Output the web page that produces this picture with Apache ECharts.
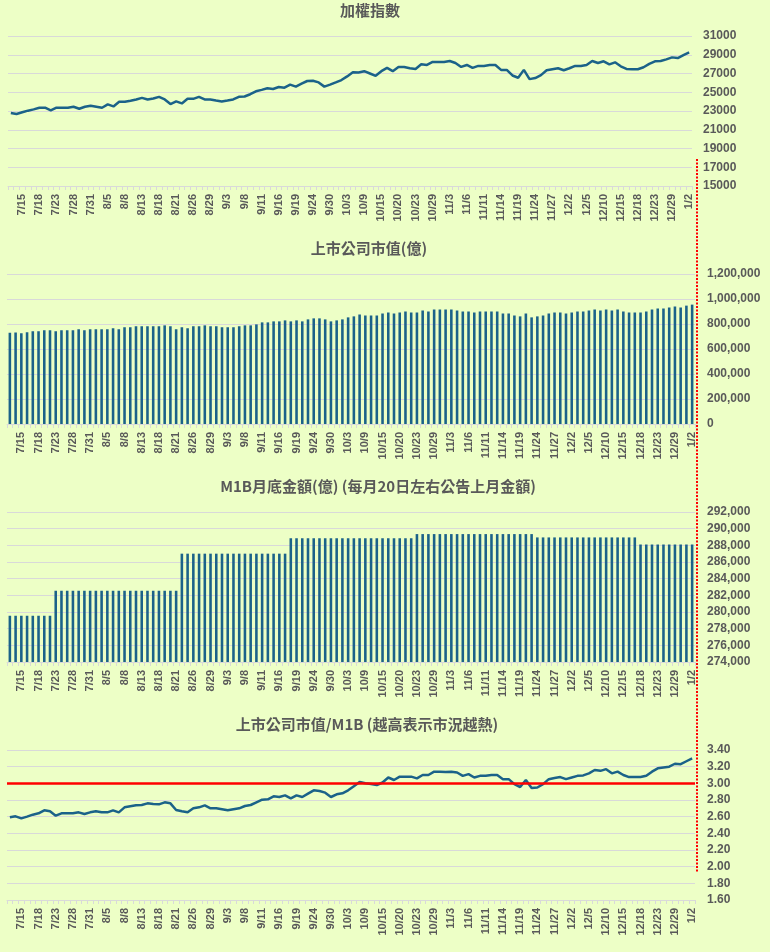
<!DOCTYPE html>
<html>
<head>
<meta charset="utf-8"/>
<style>
  html,body { height:100%; width:100%; margin:0; padding:0; background:#edffc6; }
  #chart { width:770px; height:952px; }
</style>
</head>
<body>
<div id="chart"></div>
<script src="https://cdn.jsdelivr.net/npm/echarts@6/dist/echarts.min.js"></script>
<script type="text/javascript">

// 交易日
var dates = [
  '7/11','7/14','7/15','7/16','7/17','7/18','7/21','7/22','7/23','7/24',
  '7/25','7/28','7/29','7/30','7/31','8/1','8/4','8/5','8/6','8/7',
  '8/8','8/11','8/12','8/13','8/14','8/15','8/18','8/19','8/20','8/21',
  '8/22','8/25','8/26','8/27','8/28','8/29','9/1','9/2','9/3','9/4',
  '9/5','9/8','9/9','9/10','9/11','9/12','9/15','9/16','9/17','9/18',
  '9/19','9/22','9/23','9/24','9/25','9/26','9/30','10/1','10/2','10/3',
  '10/7','10/8','10/9','10/13','10/14','10/15','10/16','10/17','10/20','10/21',
  '10/22','10/23','10/27','10/28','10/29','10/30','10/31','11/3','11/4','11/5',
  '11/6','11/7','11/10','11/11','11/12','11/13','11/14','11/17','11/18','11/19',
  '11/20','11/21','11/24','11/25','11/26','11/27','11/28','12/1','12/2','12/3',
  '12/4','12/5','12/8','12/9','12/10','12/11','12/12','12/15','12/16','12/17',
  '12/18','12/19','12/22','12/23','12/24','12/26','12/29','12/30','12/31','1/2'
];

// 加權指數
var taiex = [
  22790,22685,22860,23035,23175,23350,23350,23070,23350,23350,
  23350,23455,23245,23455,23560,23455,23350,23700,23490,23980,
  23980,24090,24230,24400,24230,24330,24510,24230,23740,24020,
  23810,24300,24300,24510,24230,24230,24120,24020,24120,24230,
  24510,24545,24790,25100,25250,25420,25350,25560,25490,25810,
  25600,25910,26200,26230,26050,25600,25810,26050,26300,26690,
  27140,27105,27245,27000,26755,27245,27600,27245,27700,27700,
  27560,27490,27980,27910,28230,28230,28230,28330,28120,27700,
  27910,27600,27810,27810,27910,27910,27385,27385,26790,26545,
  27385,26400,26510,26825,27350,27455,27560,27350,27560,27810,
  27810,27910,28330,28120,28300,27980,28190,27770,27490,27455,
  27455,27665,28020,28300,28330,28510,28720,28650,28965,29245
];

// 上市公司市值(億)
var marketCap = [
  730000,732000,726000,734000,742000,742000,750000,750000,742000,750000,
  750000,750000,758000,750000,758000,758000,758000,758000,766000,758000,
  774000,774000,782000,782000,782000,782000,782000,789000,782000,758000,
  774000,766000,782000,782000,789000,782000,782000,774000,774000,774000,
  782000,789000,789000,797000,813000,813000,821000,821000,829000,821000,
  829000,821000,837000,845000,845000,837000,821000,829000,837000,853000,
  861000,876000,868000,868000,868000,884000,892000,884000,892000,900000,
  892000,892000,908000,900000,916000,916000,916000,916000,908000,900000,
  900000,892000,900000,900000,900000,900000,884000,884000,868000,861000,
  884000,853000,861000,868000,884000,892000,892000,884000,892000,900000,
  900000,908000,916000,908000,916000,908000,916000,900000,892000,892000,
  892000,900000,916000,924000,924000,932000,940000,932000,947000,955000
];

// M1B月底金額(億)
var m1b = [
  279550,279550,279550,279550,279550,279550,279550,279550,282550,282550,
  282550,282550,282550,282550,282550,282550,282550,282550,282550,282550,
  282550,282550,282550,282550,282550,282550,282550,282550,282550,282550,
  287000,287000,287000,287000,287000,287000,287000,287000,287000,287000,
  287000,287000,287000,287000,287000,287000,287000,287000,287000,288850,
  288850,288850,288850,288850,288850,288850,288850,288850,288850,288850,
  288850,288850,288850,288850,288850,288850,288850,288850,288850,288850,
  288850,289350,289350,289350,289350,289350,289350,289350,289350,289350,
  289350,289350,289350,289350,289350,289350,289350,289350,289350,289350,
  289350,289350,288950,288950,288950,288950,288950,288950,288950,288950,
  288950,288950,288950,288950,288950,288950,288950,288950,288950,288950,
  288100,288100,288100,288100,288100,288100,288100,288100,288100,288100
];

// 上市公司市值/M1B
var capRatio = [
  2.592,2.604,2.58,2.60,2.624,2.64,2.676,2.664,2.612,2.64,
  2.64,2.64,2.652,2.632,2.652,2.664,2.652,2.652,2.676,2.652,
  2.712,2.724,2.736,2.74,2.76,2.752,2.748,2.772,2.76,2.68,
  2.664,2.652,2.70,2.712,2.736,2.70,2.70,2.688,2.676,2.688,
  2.70,2.728,2.74,2.772,2.804,2.808,2.844,2.836,2.856,2.82,
  2.856,2.836,2.876,2.916,2.908,2.888,2.836,2.868,2.88,2.916,
  2.964,3.016,3.00,2.992,2.98,3.01,3.07,3.04,3.08,3.08,
  3.08,3.06,3.10,3.10,3.14,3.14,3.135,3.14,3.13,3.09,
  3.11,3.07,3.09,3.09,3.10,3.10,3.05,3.05,2.99,2.955,
  3.04,2.945,2.95,2.99,3.05,3.065,3.075,3.05,3.07,3.09,
  3.095,3.12,3.16,3.15,3.17,3.12,3.14,3.10,3.075,3.075,
  3.075,3.09,3.14,3.18,3.19,3.20,3.235,3.23,3.265,3.30
];

var overheatLevel = 3.0;

var titles = ['加權指數', '上市公司市值(億)', 'M1B月底金額(億) (每月20日左右公告上月金額)', '上市公司市值/M1B (越高表示市況越熱)'];

var FONT = "'Liberation Sans', Arial, sans-serif";
var TITLE_FONT = "'Noto Sans CJK TC', 'Liberation Sans', sans-serif";
var mainColor = '#1b6289';
var gridColor = '#d9d9d9';
var textColor = '#595959';

// 版面: 四個圖上下排列
var gridTops = [36, 274, 512, 750];
var gridLefts = [8, 7, 7, 7];
var gridRights = [78, 75, 75, 75];
var titleCenters = [370, 369, 378, 367];
var yAxisSpec = [
  {min: 15000, max: 31000, interval: 2000, fmt: function (v) { return String(v); }},
  {min: 0, max: 1200000, interval: 200000, fmt: function (v) { return v.toLocaleString('en-US'); }},
  {min: 274000, max: 292000, interval: 2000, fmt: function (v) { return v.toLocaleString('en-US'); }},
  {min: 1.6, max: 3.4, interval: 0.2, fmt: function (v) { return v.toFixed(2); }}
];

var myChart = echarts.init(document.getElementById('chart'));

var option = {
  backgroundColor: '#edffc6',
  animation: false,
  title: titles.map(function (t, k) {
    return {
      text: t,
      left: titleCenters[k],
      top: gridTops[k] - 33,
      textAlign: 'center',
      padding: 0,
      textStyle: {fontFamily: TITLE_FONT, fontSize: 15, fontWeight: 'bold', color: textColor}
    };
  }),
  grid: gridTops.map(function (top, k) {
    return {left: gridLefts[k], right: gridRights[k], top: top, height: 150, containLabel: false};
  }),
  xAxis: gridTops.map(function (top, k) {
    return {
      type: 'category',
      gridIndex: k,
      data: dates,
      boundaryGap: true,
      axisLine: {lineStyle: {color: gridColor, width: 1}},
      axisTick: {show: true, interval: 0, length: 4, lineStyle: {color: gridColor}},
      axisLabel: {
        interval: function (i) { return i % 3 === 2; },
        rotate: 90,
        margin: 8,
        fontFamily: FONT,
        fontSize: 11,
        fontWeight: 'bold',
        color: textColor
      }
    };
  }),
  yAxis: yAxisSpec.map(function (s, k) {
    return {
      type: 'value',
      gridIndex: k,
      position: 'right',
      min: s.min,
      max: s.max,
      interval: s.interval,
      axisLine: {show: false},
      axisTick: {show: false},
      splitLine: {lineStyle: {color: gridColor, width: 1}},
      axisLabel: {
        formatter: s.fmt,
        margin: k === 0 ? 11 : 12,
        fontFamily: FONT,
        fontSize: 12,
        fontWeight: 'bold',
        color: textColor
      }
    };
  }),
  series: [
    {
      name: '加權指數', type: 'line', xAxisIndex: 0, yAxisIndex: 0,
      data: taiex, symbol: 'none',
      lineStyle: {color: mainColor, width: 2.5}
    },
    {
      name: '上市公司市值', type: 'bar', xAxisIndex: 1, yAxisIndex: 1,
      data: marketCap, barWidth: '45%',
      itemStyle: {color: mainColor}
    },
    {
      name: 'M1B', type: 'bar', xAxisIndex: 2, yAxisIndex: 2,
      data: m1b, barWidth: '45%', clip: true,
      itemStyle: {color: mainColor}
    },
    {
      name: '市值/M1B', type: 'line', xAxisIndex: 3, yAxisIndex: 3,
      data: capRatio, symbol: 'none',
      lineStyle: {color: mainColor, width: 2.5},
      markLine: {
        symbol: 'none', silent: true, animation: false,
        label: {show: false},
        lineStyle: {color: '#ff0000', width: 2.5, type: 'solid'},
        data: [{yAxis: overheatLevel}]
      }
    }
  ],
  // 右側紅色虛線
  graphic: [{
    type: 'line',
    shape: {x1: 697, y1: 159, x2: 697, y2: 872},
    style: {stroke: '#ff0000', lineWidth: 2, lineDash: [2, 1.5]},
    z: 100
  }]
};

myChart.setOption(option);

</script>
</body>
</html>
